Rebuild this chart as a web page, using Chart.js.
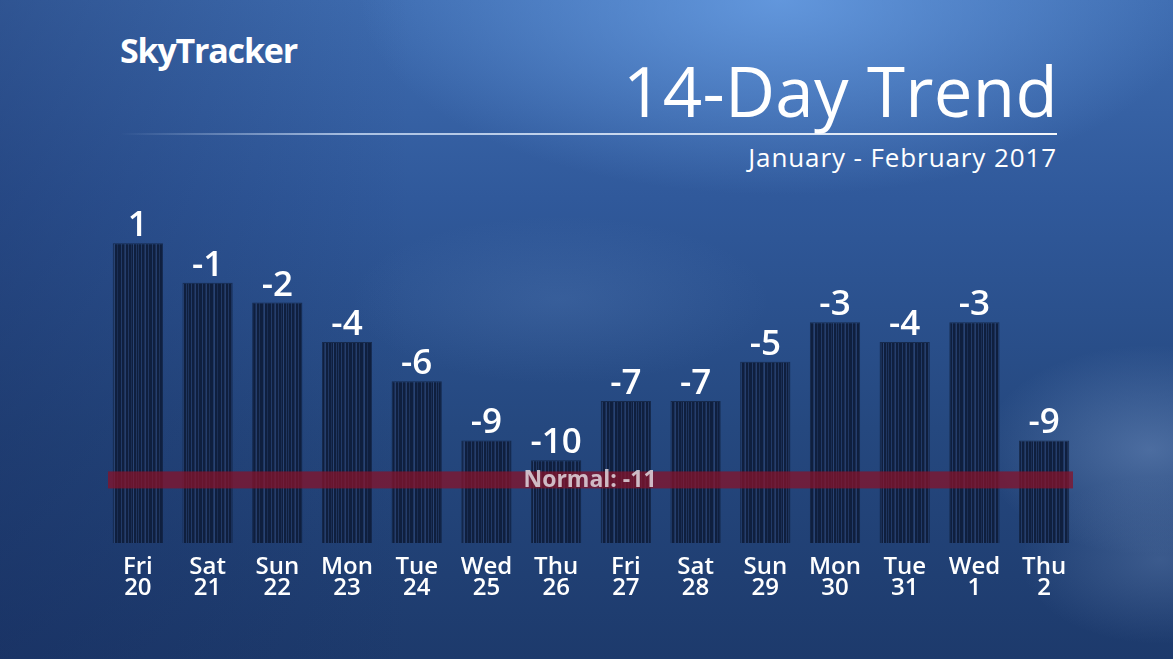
<!DOCTYPE html>
<html>
<head>
<meta charset="utf-8">
<script src="https://cdn.jsdelivr.net/npm/chart.js@4/dist/chart.umd.min.js"></script>
<style>
html,body{margin:0;padding:0;width:1173px;height:659px;overflow:hidden;}
#bg{position:absolute;left:0;top:0;width:1173px;height:659px;
background:
radial-gradient(ellipse 240px 150px at 1150px 450px, rgba(150,180,225,0.35), rgba(150,180,225,0) 70%),
radial-gradient(ellipse 200px 120px at 1160px 560px, rgba(140,170,215,0.25), rgba(140,170,215,0) 70%),
radial-gradient(ellipse 300px 120px at 560px 300px, rgba(120,160,215,0.16), rgba(120,160,215,0) 70%),
radial-gradient(ellipse 560px 260px at 780px 0px, rgba(110,165,235,0.75), rgba(110,165,235,0) 75%),
linear-gradient(90deg, rgba(20,40,90,0.35) 0%, rgba(20,40,90,0) 35%, rgba(20,40,90,0) 100%),
linear-gradient(180deg, #3e6cb0 0%, #30599b 30%, #25487f 65%, #1d3a6c 100%);}
canvas{position:absolute;left:0;top:0;}
.t{position:absolute;color:#fff;white-space:nowrap;}
#logo{left:120px;top:27px;font:700 34px "Open Sans",sans-serif;letter-spacing:-1.2px;}
#title{right:115px;top:43px;font:400 69px "Open Sans",sans-serif;letter-spacing:0.3px;}
#rule{position:absolute;left:120px;top:133px;width:937px;height:2px;
background:linear-gradient(90deg, rgba(255,255,255,0) 0%, rgba(220,235,255,0.7) 25%, rgba(255,255,255,0.95) 100%);}
#sub{right:116px;top:139px;font:500 26px "Open Sans",sans-serif;letter-spacing:0.9px;}
</style>
</head>
<body>
<div id="bg"></div>
<div class="t" id="logo">SkyTracker</div>
<div class="t" id="title">14-Day Trend</div>
<div id="rule"></div>
<div class="t" id="sub">January - February 2017</div>
<canvas id="c" width="1173" height="659"></canvas>
<script>
const dayNames = ["Fri","Sat","Sun","Mon","Tue","Wed","Thu","Fri","Sat","Sun","Mon","Tue","Wed","Thu"];
const dayNumbers = ["20","21","22","23","24","25","26","27","28","29","30","31","1","2"];
const trendTemps = [1,-1,-2,-4,-6,-9,-10,-7,-7,-5,-3,-4,-3,-9];
const normalTemp = -11;
const normalLabel = "Normal: -11";

const labels = dayNames.map((d,i)=>[d, dayNumbers[i]]);

// striped bar texture
function makePattern(){
  const p = document.createElement('canvas');
  p.width = 50; p.height = 4;
  const g = p.getContext('2d');
  g.fillStyle = '#0f1f3e';
  g.fillRect(0,0,50,4);
  const stripes = [2,5,6,9,13,14,17,21,24,25,28,31,33,36,38,41,44,45,48];
  const alphas = [0.35,0.2,0.4,0.25,0.3,0.45,0.2,0.35,0.25,0.4,0.3,0.2,0.45,0.3,0.25,0.35,0.2,0.4,0.3];
  stripes.forEach((x,i)=>{ g.fillStyle='rgba(70,110,180,'+alphas[i]+')'; g.fillRect(x,0,1,4); });
  const ctx = document.getElementById('c').getContext('2d');
  return ctx.createPattern(p,'repeat');
}

const overlay = {
  id:'overlay',
  afterDatasetsDraw(chart){
    const ctx = chart.ctx;
    const meta = chart.getDatasetMeta(0);
    const ys = chart.scales.y;
    const area = chart.chartArea;
    // normal band
    const ny = ys.getPixelForValue(normalTemp);
    ctx.save();
    ctx.fillStyle = 'rgba(135,18,40,0.74)';
    ctx.fillRect(area.left+5, ny-8.5, area.right-area.left-11, 17);
    ctx.font = '700 23px "Open Sans", sans-serif';
    ctx.fillStyle = 'rgba(225,215,222,0.85)';
    ctx.textAlign = 'center';
    ctx.textBaseline = 'middle';
    ctx.fillText(normalLabel, 590, ny+1);
    // value labels
    ctx.fillStyle = '#ffffff';
    ctx.font = '600 35px "Open Sans", sans-serif';
    ctx.textBaseline = 'alphabetic';
    meta.data.forEach((bar,i)=>{
      ctx.fillText(String(trendTemps[i]), bar.x, bar.y-7);
    });
    ctx.restore();
  }
};

new Chart(document.getElementById('c'), {
  type:'bar',
  data:{
    labels: labels,
    datasets:[{
      data: trendTemps,
      backgroundColor: makePattern(),
      borderColor:'rgba(10,20,40,0.6)',
      borderWidth:1,
      base: -14.2,
      barPercentage:0.72,
      categoryPercentage:1
    }]
  },
  options:{
    responsive:false,
    animation:false,
    devicePixelRatio:1,
    layout:{padding:{left:103,right:94,top:200,bottom:0}},
    plugins:{legend:{display:false},tooltip:{enabled:false}},
    scales:{
      x:{
        grid:{display:false,drawTicks:false},
        border:{display:false},
        ticks:{color:'#ffffff',font:{family:'"Open Sans", sans-serif',size:24,weight:'600',lineHeight:0.87},padding:14,maxRotation:0,autoSkip:false},
        afterFit(s){ s.height = 116; }
      },
      y:{display:false,min:-14.2,max:3.2}
    }
  },
  plugins:[overlay]
});
</script>
</body>
</html>
